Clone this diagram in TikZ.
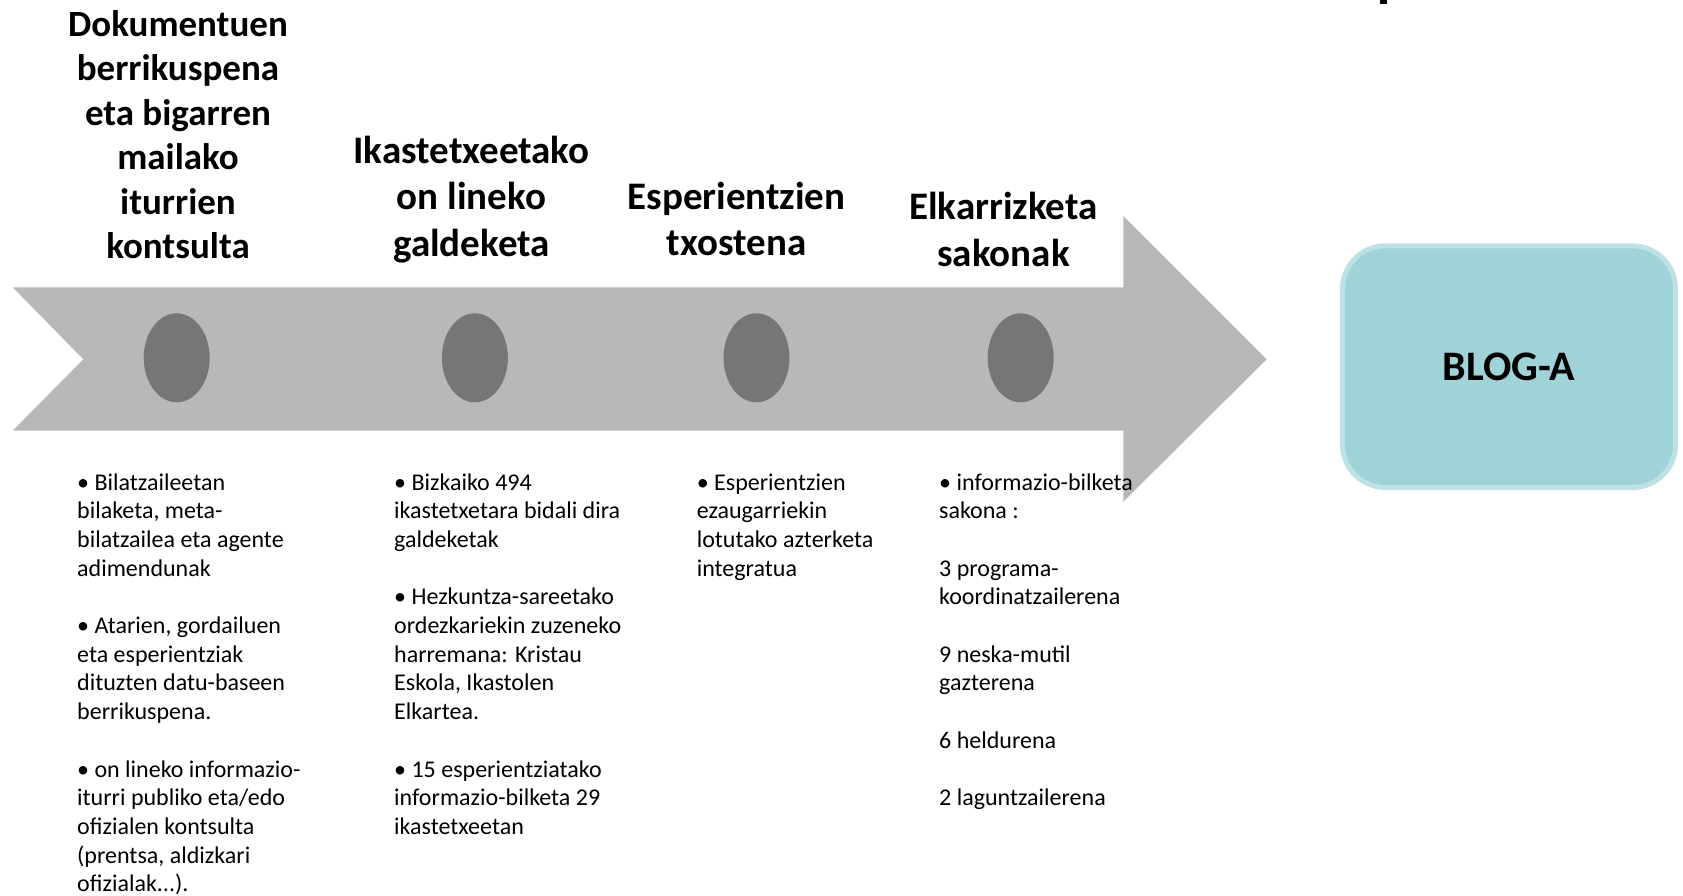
\documentclass[tikz,border=0pt]{standalone}
\usepackage{fontspec}
\setmainfont{Carlito}
\usetikzlibrary{positioning,shapes.geometric}

\definecolor{pfeilgrau}{HTML}{B8B8B8}
\definecolor{punktgrau}{HTML}{767676}
\definecolor{blogfill}{HTML}{A0D3D8}
\definecolor{blograhmen}{HTML}{BDE1E5}

\begin{document}
\begin{tikzpicture}[x=1pt,y=-1pt,
  punkt/.style={ellipse,fill=punktgrau,minimum width=66pt,minimum height=89pt,inner sep=0pt},
  titel/.style={align=center,inner sep=0pt,anchor=base,font=\fontsize{39}{46.5}\selectfont\bfseries},
  liste/.style={align=left,inner sep=0pt,anchor=base west,font=\fontsize{24}{28.7}\selectfont},
  blog/.style={rectangle,rounded corners=43pt,fill=blogfill,draw=blograhmen,line width=5pt,
    minimum width=333pt,minimum height=241.7pt,font=\fontsize{42}{50}\selectfont\bfseries}]

\useasboundingbox (0,0) rectangle (1683,896);

% pfeil
\fill[pfeilgrau] (12.7,287.3) -- (1123.3,287.3) -- (1123.3,216) -- (1266.7,359.3)
  -- (1123.3,501.7) -- (1123.3,430.7) -- (12.7,430.7) -- (83.3,359.3) -- cycle;

% punkte auf dem pfeil
\node[punkt](a) at (176.7,357.8){};
\node[punkt,right =231.8pt of a](b){};
\node[punkt,right =215.2pt of b](c){};
\node[punkt,right =197.8pt of c](d){};

% titel (base = letzte zeile)
\node[titel,font=\fontsize{37}{44.5}\selectfont\bfseries](ta) at (178,258.5){Dokumentuen\\berrikuspena\\eta bigarren\\mailako\\iturrien\\kontsulta};
\node[titel](tb) at (471.5,256){Ikastetxeetako\\on lineko\\galdeketa};
\node[titel](tc) at (736.5,255.5){Esperientzien\\txostena};
\node[titel](td) at (1003.5,266){Elkarrizketa\\sakonak};

% listen unter dem pfeil (base = letzte zeile)
\node[liste](la) at (77,891.8){• Bilatzaileetan\\bilaketa, meta-\\bilatzailea eta agente\\adimendunak\\[28.7pt]
  • Atarien, gordailuen\\eta esperientziak\\dituzten datu-baseen\\berrikuspena.\\[28.7pt]
  • on lineko informazio-\\iturri publiko eta/edo\\ofizialen kontsulta\\(prentsa, aldizkari\\ofizialak...).};
\node[liste](lb) at (394,834.4){• Bizkaiko 494\\ikastetxetara bidali dira\\galdeketak\\[28.7pt]
  • Hezkuntza-sareetako\\ordezkariekin zuzeneko\\harremana: Kristau\\Eskola, Ikastolen\\Elkartea.\\[28.7pt]
  • 15 esperientziatako\\informazio-bilketa 29\\ikastetxeetan};
\node[liste](lc) at (696.6,576.1){• Esperientzien\\ezaugarriekin\\lotutako azterketa\\integratua};
\node[liste](ld) at (939,805.7){• informazio-bilketa\\sakona :\\[28.7pt]
  3 programa-\\koordinatzailerena\\[28.7pt]
  9 neska-mutil\\gazterena\\[28.7pt]
  6 heldurena\\[28.7pt]
  2 laguntzailerena};

% blog kasten
\node[blog](e) at (1509,366.7){BLOG-A};

% rest vom abgeschnittenen text oben
\fill (1380,0) rectangle (1387,4);

\end{tikzpicture}
\end{document}
